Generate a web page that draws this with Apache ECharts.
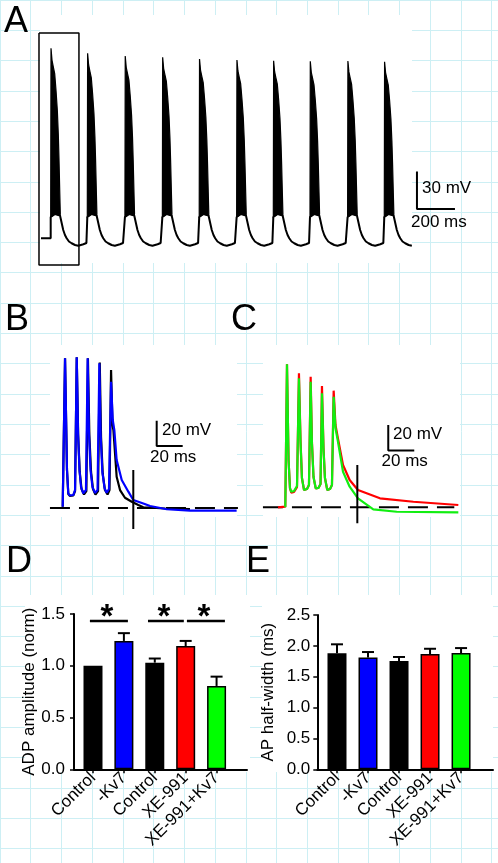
<!DOCTYPE html>
<html>
<head>
<meta charset="utf-8">
<script src="https://cdn.jsdelivr.net/npm/echarts@6/dist/echarts.min.js"></script>
<style>
html,body{margin:0;padding:0;background:#fff;}
#chart{width:498px;height:863px;}
</style>
</head>
<body>
<div id="chart"></div>
<script>
// ---------------- DATA ----------------
// Panel A: burst train (time in ms, voltage in mV)
const aOnsets = [56.3, 249, 447, 644, 838, 1035, 1228, 1421, 1619, 1812];
const aPeaks = [85.4, 81.4, 79.2, 78.1, 76.8, 76.0, 75.4, 74.9, 75.2, 74.6];
const aRestStart = [5.3, -66.6];
const aTraceEnd = 1959;
// one cycle of the trace after a burst onset, read from the first burst: [ms after onset, mV]
const aCycle = [[0,-49.6],[22.6,-47.2],[49,-48.4],[57,-49.6],[66,-60],[75,-64],[84,-66.6],[96,-69.2],[110,-70.6],[128,-72],[145,-72.6],[172,-71.4],[188,-70.4]];
// upper envelope of the spike burst: [ms after onset, fraction of plateau->peak]
const aEnvelope = [[1.6,1],[6.8,0.93],[13.7,0.89],[21,0.85],[28,0.75],[35,0.63],[40,0.49],[43.7,0.34],[47.4,0.16],[50.5,0.02]];
const aPlateau = -49.6;
const aBox = [[-5.3,97.6],[205,97.6],[205,-88],[-5.3,-88],[-5.3,97.6]];
const aScaleBar = [[1984,-13.2],[1984,-43.2],[2184,-43.2]];

// Panel B: Control (black) and -Kv7 (blue), ms / mV relative to rest
const bControl = [[0,1],[1.8,118.3],[3.3,30],[4.3,11.1],[5.6,9.5],[8.2,9.9],[9.5,13.4],[10.8,119.1],[11.9,57.7],[13.1,28.5],[14.5,15],[16.4,10.7],[18.2,13.4],[19.4,118.3],[20.5,57.7],[21.8,28.5],[23.3,15],[25.2,10.7],[27.2,13.4],[28.5,115],[29.5,56.1],[30.8,26.9],[32.5,14.2],[34.5,10.7],[36,14.2],[37.2,109.1],[38.3,65.6],[39,61.7],[41.5,24.7],[44.1,14.2],[47.9,8.1],[53.1,5],[58.2,2.4],[62,0.6],[78.7,-0.4],[97.9,-0.8]];
const bKv7 = [[0,1],[1.8,118.3],[3.3,30],[4.3,11.6],[5.6,9.9],[8.2,10.3],[9.5,14.2],[10.8,119.1],[11.8,59.3],[12.9,30],[14.1,16.6],[15.8,11.6],[17.9,14.2],[19.2,118.3],[20.2,59.3],[21.4,30],[22.9,16.6],[24.8,11.9],[26.8,14.2],[28.2,114.4],[29.2,57.7],[30.5,28.5],[32.2,15.8],[33.8,12.1],[35.6,15],[37.2,99.8],[38.5,69.6],[39.7,61.7],[41.5,37.9],[45.4,22.1],[50.5,12.9],[54.3,6.3],[62,3.6],[67.2,1.6],[80,-1.0],[98,-2.0],[133.8,-2.1]];
const bBaseline = [[-9.8,0],[134.8,0]];
const bCross = [[54.3,30],[54.3,-16.6]];
const bScaleBar = [[72.3,69],[72.3,49],[92.3,49]];

// Panel C: XE-991 (red) and XE-991+Kv7 (green)
const cXE = [[-5.6,0],[0,0.5],[1.3,113],[2.5,37.4],[3.6,15.3],[4.6,11.5],[6.7,12.1],[9,16],[10.5,105.9],[11.7,53.2],[12.8,23.2],[14.4,13.7],[16.7,14.5],[18.2,17.6],[19.5,103.2],[20.5,51.6],[21.7,24],[23.4,15],[25.5,15.3],[27.1,18.4],[28.2,95.9],[29.4,46.9],[30.5,23.2],[32.3,13.7],[34.4,14.5],[35.9,17.6],[37.2,92.2],[38.6,65.1],[40.5,54.5],[44.4,33.4],[49.5,21.6],[55.9,13.7],[72.8,7.1],[98.5,4.4],[133.1,1.8]];
const cXEKv7 = [[0,0],[1.3,113],[2.5,37.4],[3.6,14.9],[4.6,12.3],[6.7,12.9],[9,16.8],[10.5,102],[11.7,51.6],[12.8,23.2],[14.4,13.7],[16.7,14.5],[18.2,17.6],[19.5,99.3],[20.5,50],[21.7,24],[23.4,15],[25.5,15.3],[27.1,18.4],[28.2,90.1],[29.4,45.3],[30.5,23.2],[32.3,13.7],[34.4,14.5],[35.9,17.6],[37.2,87.4],[38.6,62.7],[40.5,51.9],[44.4,28.1],[49.5,16.3],[55.9,7.1],[67.7,-1.6],[85.7,-3.5],[133.1,-4]];
const cBaseline = [[-17.2,0],[130,0]];
const cCross = [[55.4,33.4],[55.4,-12.6]];
const cScaleBar = [[79.2,65],[79.2,45],[99.2,45]];

// Panels D and E: bar charts
const barCats = ['Control', '-Kv7', 'Control', 'XE-991', 'XE-991+Kv7'];
const barColors = ['#000000', '#0000ff', '#000000', '#ff0000', '#00ff00'];
const dValues = [1.0, 1.24, 1.03, 1.19, 0.805];
const dErrors = [0, 0.075, 0.04, 0.05, 0.09];
const dSigLines = [[-0.1, 1.13], [1.78, 2.94], [3.04, 4.27]];
const dSigLevel = 1.433;
const eValues = [1.88, 1.81, 1.755, 1.868, 1.884];
const eErrors = [0.145, 0.09, 0.065, 0.085, 0.08];
const dTicks = [0, 0.5, 1.0, 1.5];
const eTicks = [0, 0.5, 1.0, 1.5, 2.0, 2.5];

// ---------------- BUILD ----------------
const FONT = '"Liberation Sans", Arial, sans-serif';
const GRIDC = '#cdeff4';

// panel A trace
const aTrace = [aRestStart.slice(), [aOnsets[0], aRestStart[1]]];
aOnsets.forEach((t0, i) => {
  const next = i + 1 < aOnsets.length ? aOnsets[i + 1] : null;
  aCycle.forEach(([dt, v]) => {
    const t = t0 + dt;
    if (next !== null ? t < next : t <= aTraceEnd) aTrace.push([t, v]);
  });
});
const burstData = aOnsets.map((t, i) => [t, aPeaks[i]]);

function burstRender(params, api) {
  const t0 = api.value(0), peak = api.value(1);
  const pts = [api.coord([t0, aPlateau])];
  aEnvelope.forEach(([dt, f]) => pts.push(api.coord([t0 + dt, aPlateau + f * (peak - aPlateau)])));
  const lastDt = aEnvelope[aEnvelope.length - 1][0];
  aCycle.filter(p => p[0] <= lastDt).reverse().forEach(([dt, v]) => pts.push(api.coord([t0 + dt, v])));
  return { type: 'polygon', shape: { points: pts }, style: { fill: '#000', stroke: '#000', lineWidth: 1.2 } };
}

function errRender(params, api) {
  const x = api.value(0), top = api.value(1), err = api.value(2);
  if (!err) return { type: 'group', children: [] };
  const p0 = api.coord([x, top]), p1 = api.coord([x, top + err]);
  return { type: 'group', children: [
    { type: 'line', shape: { x1: p0[0], y1: p0[1], x2: p1[0], y2: p1[1] }, style: { stroke: '#000', lineWidth: 2 } },
    { type: 'line', shape: { x1: p1[0] - 6, y1: p1[1], x2: p1[0] + 6, y2: p1[1] }, style: { stroke: '#000', lineWidth: 2 } }
  ] };
}

function sigRender(params, api) {
  const s = api.value(0), e = api.value(1), y = api.value(2);
  const p0 = api.coord([s, y]), p1 = api.coord([e, y]);
  return { type: 'group', children: [
    { type: 'line', shape: { x1: p0[0], y1: p0[1], x2: p1[0], y2: p1[1] }, style: { stroke: '#000', lineWidth: 2.6 } },
    { type: 'text', style: { text: '*', x: (p0[0] + p1[0]) / 2 - 2, y: p0[1] - 3, align: 'center', verticalAlign: 'middle', fontSize: 33, fontWeight: 'bold', fontFamily: FONT, fill: '#000' } }
  ] };
}

function hiddenX(gi, min, max) { return { gridIndex: gi, type: 'value', min, max, show: false }; }
function hiddenY(gi, min, max) { return { gridIndex: gi, type: 'value', min, max, show: false }; }

function barXAxis(gi, min, max) {
  return {
    gridIndex: gi, type: 'value', min, max, z: 5,
    axisLine: { show: true, onZero: false, lineStyle: { color: '#000', width: 2 } },
    axisTick: { show: true, customValues: [0, 1, 2, 3, 4], length: 4, lineStyle: { color: '#000', width: 1.5 } },
    axisLabel: { show: true, customValues: [0, 1, 2, 3, 4], formatter: v => barCats[Math.round(v)], rotate: 45, fontSize: 17, color: '#000', fontFamily: FONT, margin: 6 },
    splitLine: { show: false }
  };
}
function barYAxis(gi, ticks, name, gap, margin) {
  return {
    gridIndex: gi, type: 'value', min: ticks[0], max: ticks[ticks.length - 1], interval: ticks[1] - ticks[0], z: 5,
    axisLine: { show: true, onZero: false, lineStyle: { color: '#000', width: 2 } },
    axisTick: { show: true, length: 4, lineStyle: { color: '#000', width: 1.5 } },
    axisLabel: { formatter: v => v.toFixed(1), fontSize: 17, color: '#000', fontFamily: FONT, margin },
    splitLine: { show: false },
    name, nameLocation: 'middle', nameGap: gap,
    nameTextStyle: { fontSize: 17, color: '#000', fontFamily: FONT }
  };
}

function lineS(xi, data, color, width, extra) {
  return Object.assign({ type: 'line', xAxisIndex: xi, yAxisIndex: xi, data, symbol: 'none', showSymbol: false, clip: false, silent: true,
    lineStyle: { color, width }, z: 4 }, extra || {});
}

function txt(text, x, y, size) {
  return { type: 'text', x, y, z: 10, style: { text, fontSize: size, fontFamily: FONT, fill: '#000', align: 'left', verticalAlign: 'middle' } };
}
function mask(x, y, w, h) {
  return { type: 'rect', z: 1, shape: { x, y, width: w, height: h }, style: { fill: '#fff' } };
}

const option = {
  animation: false,
  backgroundColor: '#fff',
  grid: [
    { left: -0.35, top: -4.55, width: 500, height: 870 },
    { left: 30.5, top: 30, width: 427.5, height: 240 },
    { left: 36.7, top: 343.55, width: 208, height: 189.75 },
    { left: 259.3, top: 342.85, width: 208, height: 189.75 },
    { left: 74, top: 614, width: 173, height: 155.3 },
    { left: 317.3, top: 615, width: 175.7, height: 154.3 }
  ],
  xAxis: [
    { gridIndex: 0, type: 'value', min: -30.85, max: 469.15, interval: 30.85, z: 0,
      axisLine: { show: false }, axisTick: { show: false }, axisLabel: { show: false },
      splitLine: { show: true, lineStyle: { color: GRIDC, width: 1 } } },
    hiddenX(1, -50, 2200), hiddenX(2, -20, 140), hiddenX(3, -20, 140),
    barXAxis(4, -0.615, 4.985), barXAxis(5, -0.635, 5.03)
  ],
  yAxis: [
    { gridIndex: 0, type: 'value', inverse: true, min: -30.55, max: 839.45, interval: 30.55, z: 0,
      axisLine: { show: false }, axisTick: { show: false }, axisLabel: { show: false },
      splitLine: { show: true, lineStyle: { color: GRIDC, width: 1 } } },
    hiddenY(1, -92, 100), hiddenY(2, -20, 130), hiddenY(3, -20, 130),
    barYAxis(4, dTicks, 'ADP amplitude (norm)', 29, 9),
    barYAxis(5, eTicks, 'AP half-width (ms)', 40, 7)
  ],
  graphic: [
    mask(40, 15, 372, 248),
    mask(50, 345, 187, 172),
    mask(263, 345, 197, 172),
    mask(25, 595, 225, 177),
    mask(262, 595, 231, 177),
    txt('A', 4, 22, 36), txt('B', 5, 320, 36), txt('C', 231, 320, 36),
    txt('D', 6, 562, 36), txt('E', 246, 562, 36),
    txt('30 mV', 422, 188, 17), txt('200 ms', 411, 222, 17),
    txt('20 mV', 162, 430, 17), txt('20 ms', 150, 457, 17),
    txt('20 mV', 393, 434, 17), txt('20 ms', 381.5, 461, 17)
  ],
  series: [
    // A
    { type: 'custom', xAxisIndex: 1, yAxisIndex: 1, data: burstData, renderItem: burstRender, z: 3, silent: true },
    lineS(1, aTrace, '#000', 2),
    lineS(1, aBox, '#000', 1.5),
    lineS(1, aScaleBar, '#000', 2),
    // B
    lineS(2, bBaseline, '#000', 2, { lineStyle: { color: '#000', width: 2, type: [20, 9] }, z: 3 }),
    lineS(2, bControl, '#000', 2.2),
    lineS(2, bKv7, '#0000ff', 2.2, { z: 5 }),
    lineS(2, bCross, '#000', 2, { z: 6 }),
    lineS(2, bScaleBar, '#000', 2),
    // C
    lineS(3, cBaseline, '#000', 2, { lineStyle: { color: '#000', width: 2, type: [20, 9] }, z: 3 }),
    lineS(3, cXE, '#ff0000', 2.2),
    lineS(3, cXEKv7, '#11ee11', 2.2, { z: 5 }),
    lineS(3, cCross, '#000', 2, { z: 6 }),
    lineS(3, cScaleBar, '#000', 2),
    // D
    { type: 'bar', xAxisIndex: 4, yAxisIndex: 4, barWidth: 19, z: 3, silent: true,
      data: dValues.map((v, i) => ({ value: [i, v], itemStyle: { color: barColors[i], borderColor: '#000', borderWidth: 1.5 } })) },
    { type: 'custom', xAxisIndex: 4, yAxisIndex: 4, z: 4, silent: true, renderItem: errRender,
      data: dValues.map((v, i) => [i, v, dErrors[i]]) },
    { type: 'custom', xAxisIndex: 4, yAxisIndex: 4, z: 4, silent: true, renderItem: sigRender,
      data: dSigLines.map(s => [s[0], s[1], dSigLevel]) },
    // E
    { type: 'bar', xAxisIndex: 5, yAxisIndex: 5, barWidth: 19, z: 3, silent: true,
      data: eValues.map((v, i) => ({ value: [i, v], itemStyle: { color: barColors[i], borderColor: '#000', borderWidth: 1.5 } })) },
    { type: 'custom', xAxisIndex: 5, yAxisIndex: 5, z: 4, silent: true, renderItem: errRender,
      data: eValues.map((v, i) => [i, v, eErrors[i]]) }
  ]
};

const chart = echarts.init(document.getElementById('chart'), null, { renderer: 'canvas', width: 498, height: 863 });
chart.setOption(option);
</script>
</body>
</html>
